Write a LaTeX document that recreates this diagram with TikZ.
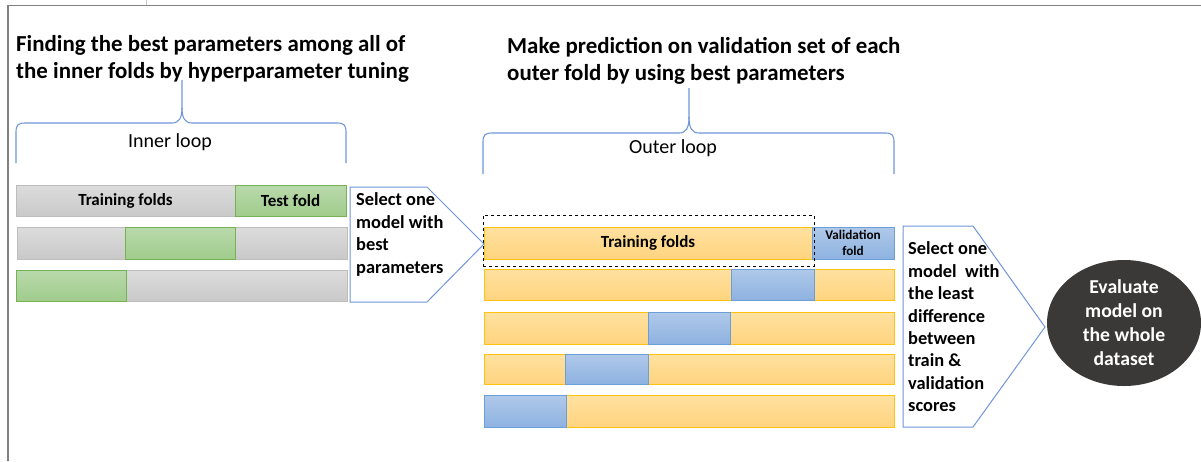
\documentclass[tikz,border=0pt]{standalone}
\usepackage{fontspec}
\setmainfont{Carlito}
\usetikzlibrary{fit,shapes.geometric}

\definecolor{framegray}{HTML}{808080}
\definecolor{tickgray}{HTML}{C8C8C8}
\definecolor{bracebl}{HTML}{7096D8}
\definecolor{graytop}{HTML}{DCDCDC}
\definecolor{graybot}{HTML}{C9C9C9}
\definecolor{grayedge}{HTML}{BDBDBD}
\definecolor{greentop}{HTML}{B9D9AB}
\definecolor{greenbot}{HTML}{A0CC8C}
\definecolor{greenedge}{HTML}{76B253}
\definecolor{orangetop}{HTML}{FFE1A0}
\definecolor{orangebot}{HTML}{FFD47F}
\definecolor{orangeedge}{HTML}{FFC20E}
\definecolor{bluetop}{HTML}{AFC9EA}
\definecolor{bluebot}{HTML}{8EB2E0}
\definecolor{blueedge}{HTML}{6A9FD8}
\definecolor{darkoval}{HTML}{3A3938}

\tikzset{
  fold/.style={inner sep=0pt, line width=0.9pt},
  foldtext/.style={inner sep=0pt, align=center,
    font=\fontsize{17}{19}\selectfont\bfseries},
  smallfoldtext/.style={foldtext, font=\fontsize{13.2}{15.5}\selectfont\bfseries},
  grayfold/.style={fold, draw=grayedge, top color=graytop, bottom color=graybot},
  greenfold/.style={fold, draw=greenedge, top color=greentop, bottom color=greenbot},
  orangefold/.style={fold, draw=orangeedge, top color=orangetop, bottom color=orangebot},
  bluefold/.style={fold, draw=blueedge, top color=bluetop, bottom color=bluebot},
  heading/.style={inner sep=0pt, anchor=west, align=left,
    font=\fontsize{22.9}{27}\selectfont\bfseries},
  looplabel/.style={inner sep=0pt, font=\fontsize{20}{22}\selectfont},
  officebrace/.style={draw=bracebl, line width=1.1pt},
  arrowbox/.style={draw=bracebl, line width=1pt, fill=white},
  boxtext/.style={inner sep=0pt, anchor=west, align=left,
    font=\fontsize{18.4}{22.4}\selectfont\bfseries},
}

\begin{document}
\begin{tikzpicture}[x=1pt, y=-1pt]
\useasboundingbox (0,0) rectangle (1201,461);

% window frame
\draw[framegray, line width=1.6pt] (8,461) -- (8,5.5) -- (1201,5.5);
\draw[tickgray, line width=1pt] (146,0) -- (146,5);

% headings
\node[heading] (innertitle) at (16,58.5)
  {Finding the best parameters among all of\\the inner folds by hyperparameter tuning};
\node[heading] (outertitle) at (507,60.5)
  {Make prediction on validation set of each\\outer fold by using best parameters};

% inner loop brace
\draw[officebrace] (16,163) -- (16,132) .. controls (16,125) and (18,123) .. (25,123)
  -- (172,123) .. controls (179,123) and (182,118) .. (182,108) -- (182,80);
\draw[officebrace] (182,108) .. controls (182,118) and (185,123) .. (192,123)
  -- (337,123) .. controls (344,123) and (346,125) .. (346,132) -- (346,163);
\node[looplabel] (innerlbl) at (170,142) {Inner loop};

% outer loop brace
\draw[officebrace] (483,174) -- (483,142) .. controls (483,135) and (485,133) .. (492,133)
  -- (679,133) .. controls (686,133) and (689,128) .. (689,117) -- (689,88);
\draw[officebrace] (689,117) .. controls (689,128) and (692,133) .. (699,133)
  -- (885,133) .. controls (892,133) and (894,135) .. (894,142) -- (894,174);
\node[looplabel] (outerlbl) at (673,148) {Outer loop};

% inner folds
\node[grayfold, fit={(16,185) (235,216)},
  label={[foldtext]center:Training folds}] (i1a) {};
\node[greenfold, fit={(235,185) (346,216)},
  label={[foldtext]center:Test fold}] (i1b) {};
\node[grayfold, fit={(17,227) (347,259)}] (i2a) {};
\node[greenfold, fit={(125,227) (235,259)}] (i2b) {};
\node[grayfold, fit={(16,270) (347,301)}] (i3a) {};
\node[greenfold, fit={(16,270) (126,301)}] (i3b) {};

% outer folds
\node[orangefold, fit={(484,227) (812,259)},
  label={[foldtext]center:Training folds}] (o1a) {};
\node[bluefold, fit={(812,227) (894,259)},
  label={[smallfoldtext]center:Validation\\fold}] (o1b) {};
\node[orangefold, fit={(484,269) (894,300)}] (o2a) {};
\node[bluefold, fit={(731,269) (814,300)}] (o2b) {};
\node[orangefold, fit={(484,312) (894,344)}] (o3a) {};
\node[bluefold, fit={(648,312) (730,344)}] (o3b) {};
\node[orangefold, fit={(484,354) (894,384)}] (o4a) {};
\node[bluefold, fit={(565,354) (648,384)}] (o4b) {};
\node[orangefold, fit={(484,395) (894,427)}] (o5a) {};
\node[bluefold, fit={(484,395) (566,427)}] (o5b) {};

% model carried over from the inner loop
\node[draw=black, dashed, line width=0.8pt, inner sep=0pt,
  fit={(483,215) (814,266)}] (bestbox) {};

% selection arrows
\draw[arrowbox] (350,187) -- (427,187) -- (484,244) -- (427,302) -- (350,302) -- cycle;
\node[boxtext] (select1) at (356,234.5) {Select one\\model with\\best\\parameters};

\draw[arrowbox] (903,226) -- (973,226) -- (1045,327) -- (973,427) -- (903,427) -- cycle;
\node[boxtext] (select2) at (908,327)
  {Select one\\model~ with\\the least\\difference\\between\\train \&\\validation\\scores};

% final evaluation
\node[ellipse, fill=darkoval, inner sep=0pt, minimum width=154pt, minimum height=126pt,
  text=white, align=center, font=\fontsize{19.7}{24}\selectfont\bfseries]
  (evaluate) at (1124,323) {Evaluate\\model on\\the whole\\dataset};
\end{tikzpicture}
\end{document}
